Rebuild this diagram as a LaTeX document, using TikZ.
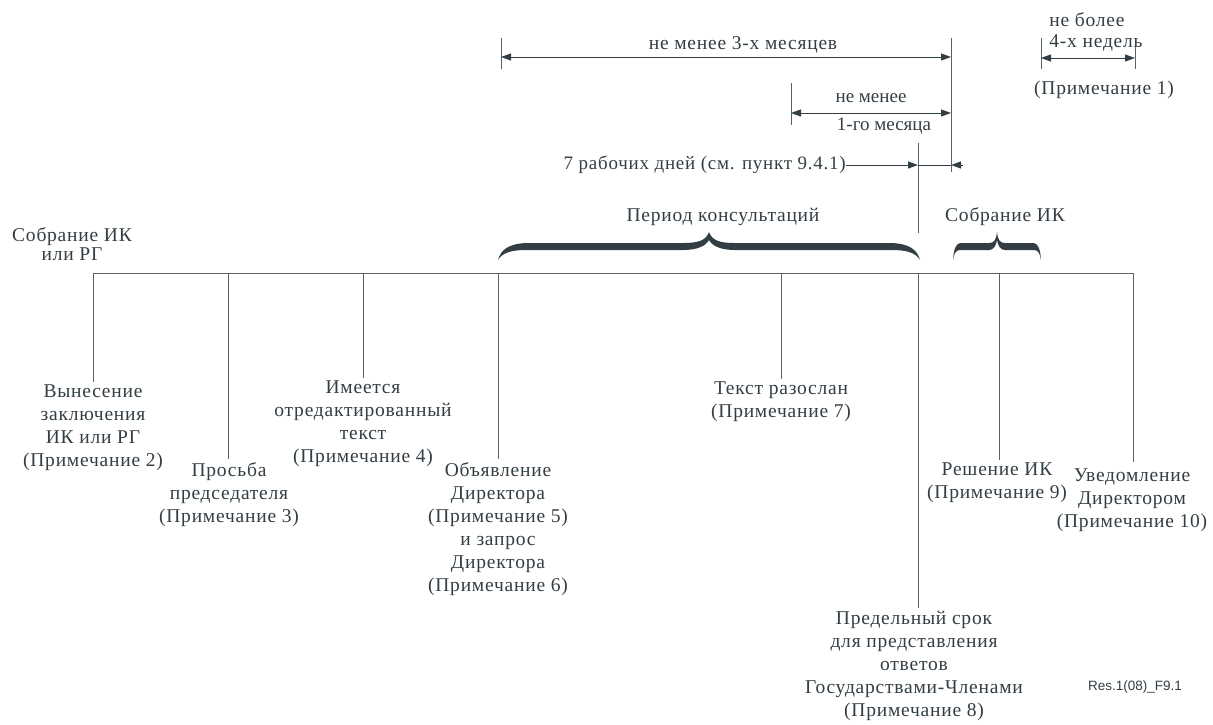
\documentclass[tikz,border=0pt]{standalone}
\usepackage{fontspec}
\setmainfont{Liberation Serif}
\newfontfamily\spacedfont[LetterSpace=4]{Liberation Serif}
\newfontfamily\resfont{Liberation Sans}
\usetikzlibrary{arrows.meta}
\definecolor{ink}{RGB}{50,62,68}
\definecolor{rule}{RGB}{88,98,104}
% calligraphic brace: a, b, tip x, curl length, tip half width
\newcommand\calbrace[5]{%
  \fill[ink] (#1,260) .. controls (#1+0.1*#4,250) and (#1+0.35*#4,244) .. (#1+#4,243)
   -- (#3-#5,243) .. controls (#3-0.35*#5,243) and (#3-0.12*#5,240) .. (#3,232)
   .. controls (#3+0.12*#5,240) and (#3+0.35*#5,243) .. (#3+#5,243)
   -- (#2-#4,243) .. controls (#2-0.35*#4,244) and (#2-0.1*#4,250) .. (#2,260)
   .. controls (#2-0.15*#4,253) and (#2-0.45*#4,250) .. (#2-#4,250)
   -- (#3+#5,250) .. controls (#3+0.45*#5,250) and (#3+0.12*#5,246) .. (#3,240)
   .. controls (#3-0.12*#5,246) and (#3-0.45*#5,250) .. (#3-#5,250)
   -- (#1+#4,250) .. controls (#1+0.45*#4,250) and (#1+0.15*#4,253) .. (#1,260) -- cycle;}
\begin{document}
\begin{tikzpicture}[x=1pt,y=-1pt,
  lab/.style={font=\spacedfont\fontsize{19.5}{23}\selectfont, text=ink, align=center, inner sep=3pt},
  toplab/.style={font=\spacedfont\fontsize{19.5}{22}\selectfont, text=ink, inner sep=0pt},
  plainlab/.style={font=\fontsize{19}{22}\selectfont, text=ink, inner sep=0pt},
  tl/.style={draw=rule, line width=1pt},
  tipA/.style={-{Triangle[length=10pt,width=7pt]}},
  dimline/.style={draw=ink, line width=1pt, {Triangle[length=10pt,width=7pt]}-{Triangle[length=10pt,width=7pt]}}
]
\useasboundingbox (0,0) rectangle (1213,724);

% ---------- main time line ----------
\coordinate (L) at (93,273);
\coordinate (R) at (1133,273);
\draw[tl] (L) -- (R);
\coordinate (t1) at (93,273);
\coordinate (t2) at (228,273);
\coordinate (t3) at (363,273);
\coordinate (t4) at (498,273);
\coordinate (t5) at (781,273);
\coordinate (t6) at (918,273);
\coordinate (t7) at (999,273);
\coordinate (t8) at (1133,273);

% ---------- labels under the line ----------
\node[lab, anchor=north] (n1) at (93,382) {Вынесение\\заключения\\ИК или РГ\\(Примечание 2)};
\node[lab, anchor=north] (n2) at (229,459) {Просьба\\председателя\\(Примечание 3)};
\node[lab, anchor=north] (n3) at (363,378) {Имеется\\отредактированный\\текст\\(Примечание 4)};
\node[lab, anchor=north] (n4) at (498,459) {Объявление\\Директора\\(Примечание 5)\\и запрос\\Директора\\(Примечание 6)};
\node[lab, anchor=north] (n5) at (781,379) {Текст разослан\\(Примечание 7)};
\node[lab, anchor=north] (n6) at (914,608) {Предельный срок\\для представления\\ответов\\Государствами-Членами\\(Примечание 8)};
\node[lab, anchor=north] (n7) at (997,460) {Решение ИК\\(Примечание 9)};
\node[lab, anchor=north] (n8) at (1132,466) {Уведомление\\Директором\\(Примечание 10)};

\draw[tl] (t1) -- (n1.north);
\draw[tl] (t2) -- (n2.north -| t2);
\draw[tl] (t3) -- (n3.north);
\draw[tl] (t4) -- (n4.north);
\draw[tl] (t5) -- (n5.north);
\draw[tl] (t6) -- (n6.north -| t6);
\draw[tl] (t7) -- (n7.north -| t7);
\draw[tl, shorten >=4pt] (t8) -- (n8.north -| t8);

% ---------- left heading ----------
\node[lab, font=\spacedfont\fontsize{19.5}{19}\selectfont, inner sep=0pt] (sob) at (72,244) {Собрание ИК\\или РГ};

% ---------- braces ----------
\calbrace{498}{920}{709}{28}{26}
\calbrace{953}{1041}{997}{7}{8}
\node[toplab] (per) at (723,217) {Период консультаций};
\node[toplab] (sik) at (1005,217) {Собрание ИК};

% ---------- ticks ----------
\coordinate (k1a) at (501,38);  \coordinate (k1b) at (501,69);
\coordinate (k2a) at (951,38);  \coordinate (k2b) at (951,172);
\coordinate (k3a) at (791,83);  \coordinate (k3b) at (791,125);
\coordinate (k4a) at (918,143); \coordinate (k4b) at (918,233);
\coordinate (k5a) at (1041,38); \coordinate (k5b) at (1041,69);
\coordinate (k6a) at (1135,38); \coordinate (k6b) at (1135,69);
\foreach \k in {1,...,6} \draw[tl] (k\k a) -- (k\k b);

% ---------- dimension arrows ----------
\coordinate (m3l) at (501,57);  \coordinate (m3r) at (951,57);
\coordinate (m1l) at (791,113); \coordinate (m1r) at (951,113);
\coordinate (w4l) at (1041,58); \coordinate (w4r) at (1135,58);
\draw[dimline] (m3l) -- (m3r);
\draw[dimline] (m1l) -- (m1r);
\draw[dimline] (w4l) -- (w4r);

\node[toplab] (txt3m) at (743,45) {не менее 3-х месяцев};
\node[plainlab] (txt1ma) at (871,98) {не менее};
\node[plainlab] (txt1mb) at (884,126) {1-го месяца};
\node[toplab] (txt4wa) at (1087,20) {не более};
\node[toplab] (txt4wb) at (1096,43) {4-х недель};
\node[toplab] (txtn1) at (1104,90) {(Примечание 1)};

% ---------- 7 working days ----------
\node[plainlab, anchor=east, font=\spacedfont\fontsize{19}{22}\selectfont] (sev) at (846,165) {7 рабочих дней (см. пункт 9.4.1)};
\coordinate (d7a) at (918,165);
\coordinate (d7b) at (951,165);
\coordinate (d7c) at (963,165);
\draw[draw=ink, line width=1pt, tipA] (sev.east) -- (d7a);
\draw[draw=ink, line width=1pt] (d7a) -- (d7b);
\draw[draw=ink, line width=1pt, tipA] (d7c) -- (d7b);

% ---------- figure id ----------
\node[font=\resfont\fontsize{13.5}{16}\selectfont, text=ink, inner sep=0pt] (res) at (1135,687) {Res.1(08)\_F9.1};
\end{tikzpicture}
\end{document}
